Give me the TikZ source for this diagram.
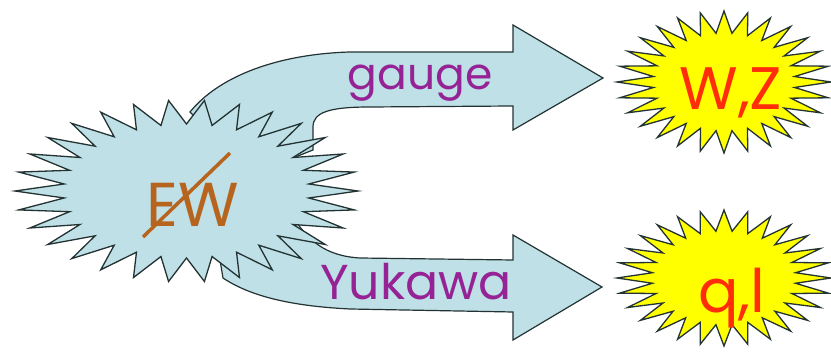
\documentclass[tikz,border=0pt]{standalone}
\usepackage{fontspec}
\setmainfont{Poppins}
\definecolor{pale}{RGB}{190,224,230}
\definecolor{sunny}{RGB}{255,255,0}
\definecolor{edge}{RGB}{35,50,50}
\definecolor{purp}{RGB}{150,35,150}
\definecolor{brn}{RGB}{182,100,30}
\definecolor{redo}{RGB}{255,45,10}
\newcommand{\mkburst}[8]{%
  \draw[#8] ({#1+#3},{#2})
    \foreach \k in {1,...,#7}{
      -- ({#1+#5*cos((\k-0.5)*360/#7)},{#2+#6*sin((\k-0.5)*360/#7)})
      -- ({#1+#3*cos(\k*360/#7)},{#2+#4*sin(\k*360/#7)})
    } -- cycle;}
\tikzset{
  arrowbody/.style={fill=pale, draw=edge, line width=1.2pt, line join=miter},
  bluestar/.style={fill=pale, draw=edge, line width=1.3pt},
  yellowstar/.style={fill=sunny, draw=edge, line width=1.3pt},
  lbl/.style={anchor=base, inner sep=0pt},
}
\begin{document}
\begin{tikzpicture}[x=1pt,y=-1pt]
\useasboundingbox (0,0) rectangle (831,352);
% upper arrow
\draw[arrowbody] (190,112) .. controls (220,75) and (280,54) .. (350,52)
  -- (513,52) -- (513,25) -- (603,78) -- (513,130) -- (513,106) -- (370,107)
  .. controls (330,107) and (313,112) .. (313,127) -- (313,150) -- (250,175) -- cycle;
% lower arrow
\draw[arrowbody] (292,215) .. controls (307,240) and (325,256) .. (360,258)
  -- (513,260) -- (513,235) -- (602,287) -- (513,340) -- (513,312) -- (350,309)
  .. controls (290,306) and (250,296) .. (223,278) -- (215,230) -- cycle;
% stars
\mkburst{186.5}{191}{171.5}{91}{123}{67}{30}{bluestar}
\mkburst{724}{82}{107}{71}{71}{49}{28}{yellowstar}
\mkburst{724}{278}{107}{68}{72}{47}{28}{yellowstar}
% texts
\node[lbl, text=purp, font=\fontsize{44}{50}\selectfont] (gauge) at (420,90) {gauge};
\node[lbl, text=purp, font=\fontsize{49}{56}\selectfont] (yuk) at (416,300) {Yukawa};
\node[lbl, text=brn, font=\fontsize{62}{70}\selectfont] (ew) at (193,227) {EW};
\draw[brn, line width=3.5pt] (143,237) -- (230,153);
\node[lbl, text=redo, font=\fontsize{60}{70}\selectfont] (wz) at (731,110) {W,Z};
\node[lbl, text=redo, font=\fontsize{60}{70}\selectfont] (ql) at (732,313) {q,l};
\end{tikzpicture}
\end{document}
